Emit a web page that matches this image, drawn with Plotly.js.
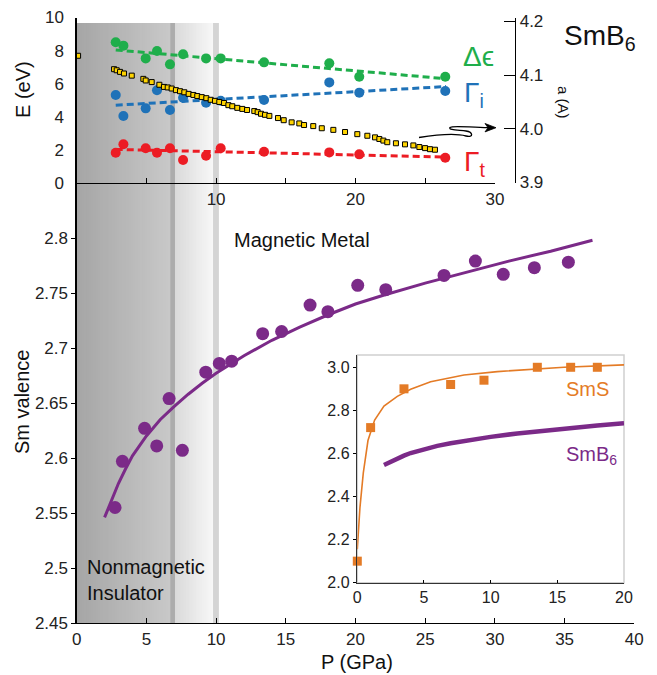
<!DOCTYPE html>
<html>
<head>
<meta charset="utf-8">
<script src="https://cdn.plot.ly/plotly-3.0.1.min.js"></script>
<style>html,body{margin:0;padding:0;background:#fff;}#chart{width:657px;height:675px;}</style>
</head>
<body>
<div id="chart"></div>
<script>
// ---------- data ----------
// Top panel: energies (eV) vs pressure (GPa)
const P_top = [2.8, 3.35, 4.95, 5.76, 6.69, 7.63, 9.28, 10.33, 13.44, 18.12, 20.27, 26.44];
const dEps  = [8.50, 8.30, 7.53, 7.98, 7.17, 7.78, 7.53, 7.53, 7.29, 7.23, 6.42, 6.42];
const gamI  = [5.32, 4.05, 4.51, 5.60, 4.41, 5.15, 4.85, 4.97, 5.02, 6.08, 5.46, 5.56];
const gamT  = [1.83, 2.34, 2.10, 1.83, 2.10, 1.39, 1.65, 2.10, 1.89, 1.85, 1.73, 1.53];
// dashed linear guides (end points)
const P_guide = [2.8, 26.5];
const dEps_guide = [8.04, 6.30];
const gamI_guide = [4.70, 5.83];
const gamT_guide = [2.03, 1.57];
// lattice parameter a (Angstrom)
const P_a = [0.1, 2.68, 2.87, 3.11, 3.39, 3.95, 4.78, 4.95, 5.38, 5.93, 6.26, 6.53, 6.81, 7.12, 7.41, 7.72, 8.03, 8.37, 8.65, 8.97, 9.30, 9.61, 9.92, 10.23, 10.57, 10.88, 11.16, 11.52, 11.88, 12.22, 12.74, 12.98, 13.22, 13.51, 13.82, 14.44, 14.85, 15.42, 15.97, 16.31, 16.97, 17.58, 18.41, 19.25, 20.13, 20.85, 21.40, 21.71, 22.00, 22.28, 22.90, 23.55, 24.15, 24.58, 24.99, 25.34, 25.70];
const a_lat = [4.136, 4.111, 4.109, 4.106, 4.103, 4.099, 4.093, 4.090, 4.087, 4.082, 4.078, 4.077, 4.075, 4.072, 4.070, 4.068, 4.065, 4.063, 4.061, 4.059, 4.057, 4.054, 4.052, 4.050, 4.048, 4.044, 4.042, 4.039, 4.037, 4.035, 4.033, 4.031, 4.028, 4.026, 4.024, 4.020, 4.016, 4.012, 4.010, 4.007, 4.005, 4.001, 3.998, 3.994, 3.990, 3.987, 3.984, 3.981, 3.978, 3.975, 3.973, 3.971, 3.969, 3.966, 3.964, 3.962, 3.961];

// Main panel: Sm valence
const P_val = [2.75, 3.28, 4.87, 5.74, 6.63, 7.58, 9.26, 10.23, 11.12, 13.34, 14.70, 16.74, 18.02, 20.16, 22.17, 26.35, 28.60, 30.60, 32.83, 35.27];
const valence = [2.555, 2.597, 2.627, 2.611, 2.654, 2.607, 2.678, 2.686, 2.688, 2.713, 2.715, 2.739, 2.733, 2.757, 2.753, 2.766, 2.779, 2.767, 2.773, 2.778];
const P_fit = [2, 2.5, 3, 3.5, 4, 5, 6, 7, 8, 9, 10, 12, 14, 16, 18, 20, 22, 25, 28, 31, 34, 37];
const val_fit = [2.546, 2.562, 2.577, 2.590, 2.602, 2.620, 2.635, 2.647, 2.658, 2.668, 2.677, 2.693, 2.707, 2.719, 2.730, 2.740, 2.748, 2.759, 2.769, 2.779, 2.788, 2.798];

// Inset: SmS
const P_sms = [0, 1, 3.5, 7, 9.5, 13.5, 16, 18];
const val_sms = [2.10, 2.72, 2.90, 2.92, 2.94, 3.0, 3.0, 3.0];
const P_sms_fit = [0, 0.2, 0.45, 0.8, 1.3, 2, 3, 4, 5.5, 8, 10.5, 13, 15.5, 20];
const val_sms_fit = [2.155, 2.35, 2.51, 2.66, 2.755, 2.82, 2.865, 2.898, 2.933, 2.964, 2.98, 2.991, 3.0, 3.011];

// tick labels
const mainYTicks = [2.45, 2.5, 2.55, 2.6, 2.65, 2.7, 2.75, 2.8];
const mainYText = ['2.45', '2.5', '2.55', '2.6', '2.65', '2.7', '2.75', '2.8'];
const topXTicks = [10, 20, 30];
const topXText = ['10', '20', '30'];
const aTicks = [3.9, 4.0, 4.1, 4.2];
const aText = ['3.9', '4.0', '4.1', '4.2'];
const insetYTicks = [2.0, 2.2, 2.4, 2.6, 2.8, 3.0];
const insetYText = ['2.0', '2.2', '2.4', '2.6', '2.8', '3.0'];

// ---------- layout helpers ----------
const W = 657, H = 675;
const fx = px => px / W;
const fy = py => 1 - py / H;
const FONT = 'Arial, "Liberation Sans", Helvetica, sans-serif';
const GREEN = '#1fae4b', BLUE = '#1f72b8', RED = '#ec1c24', PURPLE = '#7b2a88', ORANGE = '#e47b26';

const inset_P = P_fit.filter(p => p <= 20);
const inset_V = val_fit.slice(0, inset_P.length);

const traces = [
  // main
  {x: P_fit, y: val_fit, xaxis: 'x', yaxis: 'y', mode: 'lines', line: {color: PURPLE, width: 3}},
  {x: P_val, y: valence, xaxis: 'x', yaxis: 'y', mode: 'markers', marker: {color: PURPLE, size: 13}, cliponaxis: false},
  // top guides
  {x: P_guide, y: dEps_guide, xaxis: 'x2', yaxis: 'y2', mode: 'lines', line: {color: GREEN, width: 3, dash: '7px,4px'}},
  {x: P_guide, y: gamI_guide, xaxis: 'x2', yaxis: 'y2', mode: 'lines', line: {color: BLUE, width: 3, dash: '7px,4px'}},
  {x: P_guide, y: gamT_guide, xaxis: 'x2', yaxis: 'y2', mode: 'lines', line: {color: RED, width: 3, dash: '7px,4px'}},
  {x: P_top, y: dEps, xaxis: 'x2', yaxis: 'y2', mode: 'markers', marker: {color: GREEN, size: 10}, cliponaxis: false},
  {x: P_top, y: gamI, xaxis: 'x2', yaxis: 'y2', mode: 'markers', marker: {color: BLUE, size: 10}, cliponaxis: false},
  {x: P_top, y: gamT, xaxis: 'x2', yaxis: 'y2', mode: 'markers', marker: {color: RED, size: 10}, cliponaxis: false},
  {x: P_a, y: a_lat, xaxis: 'x2', yaxis: 'y3', mode: 'markers', cliponaxis: false,
   marker: {symbol: 'square', color: '#ffd400', size: 5, line: {color: '#000', width: 1}}},
  // inset
  {x: P_sms_fit, y: val_sms_fit, xaxis: 'x4', yaxis: 'y4', mode: 'lines', line: {color: ORANGE, width: 1.6}},
  {x: inset_P, y: inset_V, xaxis: 'x4', yaxis: 'y4', mode: 'lines', line: {color: PURPLE, width: 4.5}},
  {x: P_sms, y: val_sms, xaxis: 'x4', yaxis: 'y4', mode: 'markers', cliponaxis: false,
   marker: {symbol: 'square', color: ORANGE, size: 9}}
];

// ---------- shading (gradient bands) ----------
const shapes = [];
function lerp(a, b, t) { return Math.round(a + (b - a) * t); }
function gradient(x0, x1, c0, c1, n) {
  // each strip runs to the band's right edge; later (lighter) strips overlay earlier ones -> no seams
  for (let i = 0; i < n; i++) {
    const t = i / (n - 1);
    const g = lerp(c0, c1, t);
    const xa = x0 + (x1 - x0) * i / n;
    shapes.push({type: 'rect', xref: 'x', yref: 'paper', x0: xa, x1: x1, y0: fy(623), y1: fy(23),
      fillcolor: `rgb(${g},${g},${g})`, line: {width: 0}, layer: 'below'});
  }
}
gradient(0, 6.72, 166, 200, 40);
shapes.push({type: 'rect', xref: 'x', yref: 'paper', x0: 6.72, x1: 7.05, y0: fy(623), y1: fy(23), fillcolor: 'rgb(172,172,172)', line: {width: 0}, layer: 'below'});
gradient(7.05, 9.78, 218, 247, 30);
shapes.push({type: 'rect', xref: 'x', yref: 'paper', x0: 9.78, x1: 10.2, y0: fy(623), y1: fy(23), fillcolor: 'rgb(212,212,212)', line: {width: 0}, layer: 'below'});

// inset frame
shapes.push({type: 'rect', xref: 'x4 domain', yref: 'y4 domain', x0: 0, x1: 1, y0: 0, y1: 1,
  fillcolor: '#ffffff', line: {color: '#cfcfcf', width: 1.5}, layer: 'below'});

// curly arrow (decoration) in pixel coords
const pts = [[419,137.5],[435,135],[455,133],[466,136],[474,138],[473,132],[466,131],[458,130],[448,130],[450,127.5],[452,125],[470,127.5],[488,127.7]];
const P = p => `${fx(p[0]).toFixed(5)},${fy(p[1]).toFixed(5)}`;
let path = `M${P(pts[0])}`;
for (let i = 1; i < pts.length; i += 3) path += ` C${P(pts[i])} ${P(pts[i+1])} ${P(pts[i+2])}`;
shapes.push({type: 'path', xref: 'paper', yref: 'paper', path: path, line: {color: '#000', width: 1.3}, layer: 'above'});
// arrow head
shapes.push({type: 'path', xref: 'paper', yref: 'paper', layer: 'above',
  path: `M${P([496,127.7])} L${P([485,123.5])} L${P([488,127.7])} L${P([485,131.9])} Z`,
  fillcolor: '#000', line: {color: '#000', width: 0.8}});

const tickFont = {family: FONT, size: 17, color: '#222'};
const ann = (text, x, y, o) => Object.assign({text: text, x: fx(x), y: fy(y), xref: 'paper', yref: 'paper', showarrow: false,
  xanchor: 'center', yanchor: 'middle', font: {family: FONT, size: 20, color: '#111'}}, o || {});

const annotations = [
  ann('E (eV)', 23, 90, {textangle: -90}),
  ann('Sm valence', 22, 402, {textangle: -90}),
  ann('P (GPa)', 357, 662),
  ann('a (A)', 563, 102, {textangle: 90, font: {family: FONT, size: 15, color: '#111'}}),
  ann('SmB<sub>6</sub>', 562, 38, {xanchor: 'left', font: {family: FONT, size: 28, color: '#111'}}),
  ann('Δϵ', 478, 57, {font: {family: FONT, size: 28, color: GREEN}}),
  ann('Γ<sub>i</sub>', 462, 95, {xanchor: 'left', font: {family: FONT, size: 28, color: BLUE}}),
  ann('Γ<sub>t</sub>', 462, 164, {xanchor: 'left', font: {family: FONT, size: 28, color: RED}}),
  ann('Magnetic Metal', 232, 240, {xanchor: 'left'}),
  ann('Nonmagnetic<br>Insulator', 85, 580, {xanchor: 'left', align: 'left'}),
  ann('SmS', 564, 389, {xanchor: 'left', font: {family: FONT, size: 20, color: ORANGE}}),
  ann('SmB<sub>6</sub>', 564, 455, {xanchor: 'left', font: {family: FONT, size: 20, color: PURPLE}})
];

const axBase = {showgrid: false, zeroline: false, showline: true, linecolor: '#000', linewidth: 1.3,
  tickfont: tickFont, tickcolor: '#000', fixedrange: true};

const layout = {
  width: W, height: H, margin: {l: 0, r: 0, t: 0, b: 0},
  paper_bgcolor: '#fff', plot_bgcolor: 'rgba(0,0,0,0)', showlegend: false,
  font: {family: FONT},
  xaxis: Object.assign({}, axBase, {domain: [fx(76.7), fx(634.3)], range: [0, 40], anchor: 'y',
    tickmode: 'linear', tick0: 0, dtick: 5, ticks: 'inside', ticklen: 5}),
  yaxis: Object.assign({}, axBase, {domain: [fy(623), fy(183)], range: [2.45, 2.85], anchor: 'x',
    tickvals: mainYTicks, ticktext: mainYText, ticks: 'outside', ticklen: 4}),
  xaxis2: Object.assign({}, axBase, {domain: [fx(76.7), fx(494.9)], range: [0, 30], anchor: 'y2',
    tickvals: topXTicks, ticktext: topXText, ticks: 'inside', ticklen: 5,
    minor: {tickmode: 'linear', tick0: 0, dtick: 5, ticks: 'inside', ticklen: 5, tickcolor: '#000', showgrid: false}}),
  yaxis2: Object.assign({}, axBase, {domain: [fy(183), fy(17.5)], range: [0, 10], anchor: 'x2',
    tickmode: 'linear', tick0: 0, dtick: 2, ticks: '', ticklabelstandoff: 8}),
  yaxis3: Object.assign({}, axBase, {overlaying: 'y2', side: 'right', anchor: 'free', position: fx(515),
    range: [3.899, 4.2073], tickvals: aTicks, ticktext: aText, ticks: 'inside', ticklen: 11}),
  xaxis4: Object.assign({}, axBase, {domain: [fx(357.3), fx(624)], range: [0, 20], anchor: 'y4',
    tickmode: 'linear', tick0: 0, dtick: 5, ticks: 'inside', ticklen: 3, linecolor: '#333', linewidth: 1.5,
    tickfont: {family: FONT, size: 16, color: '#222'}}),
  yaxis4: Object.assign({}, axBase, {domain: [fy(582.7), fy(355)], range: [2.0, 3.057], anchor: 'x4',
    tickvals: insetYTicks, ticktext: insetYText, ticks: 'outside', ticklen: 3, linecolor: '#333', linewidth: 1.5,
    tickfont: {family: FONT, size: 16, color: '#222'}}),
  shapes: shapes,
  annotations: annotations
};

Plotly.newPlot('chart', traces, layout, {staticPlot: true, displayModeBar: false});
</script>
</body>
</html>
